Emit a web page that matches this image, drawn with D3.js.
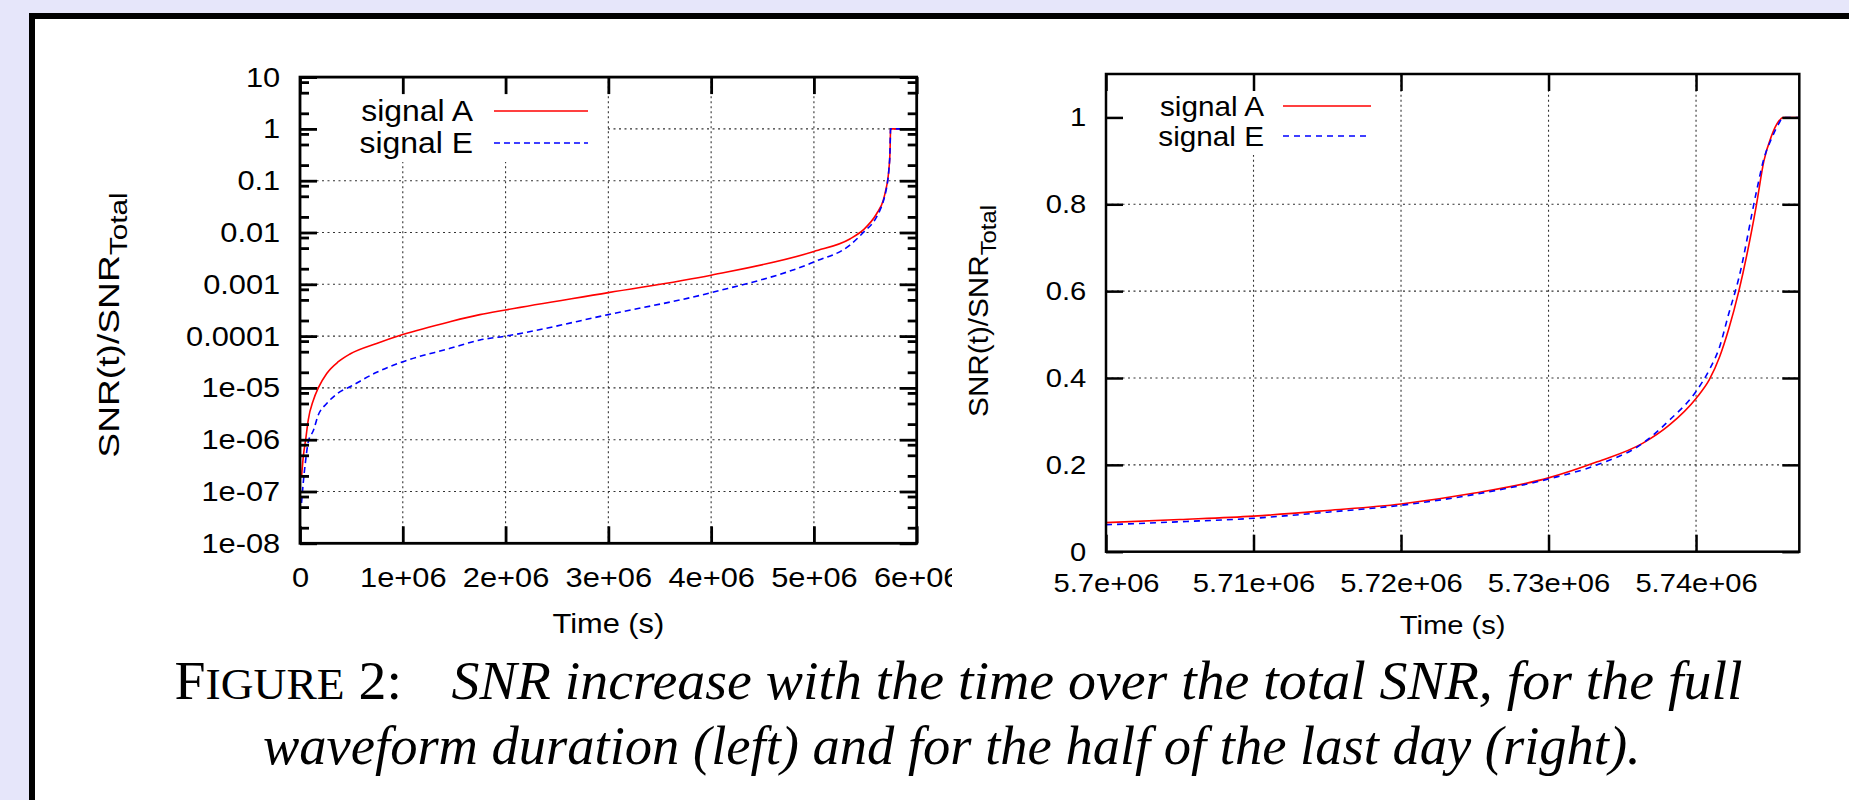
<!DOCTYPE html>
<html><head><meta charset="utf-8">
<script src="https://cdn.jsdelivr.net/npm/d3@7"></script>
<style>html,body{margin:0;padding:0;background:#e6e6fa;overflow:hidden}</style>
</head><body><svg id="c" width="1849" height="800"></svg>
<script>
// ---------- data ----------
const seriesNames = ["signal A", "signal E"];
// left panel: full waveform duration (log y)
const leftTime = [1.5e4, 3.2e4, 5.5e4, 8e4, 1.3e5, 1.78e5, 2.6e5, 3.73e5, 4.86e5, 7.46e5, 1.0e6, 1.46e6, 1.75e6, 2.0e6, 3.0e6, 4.0e6, 5.0e6, 5.35e6, 5.48e6, 5.61e6, 5.675e6, 5.7e6, 5.72e6, 5.73e6, 5.74e6, 5.743e6, 5.745e6, 5.7459e6, 6.0e6];
const leftSignalA = [1.9e-7, 4.7e-7, 1.0e-6, 2.4e-6, 5.8e-6, 1.0e-5, 1.9e-5, 3.2e-5, 4.5e-5, 7.2e-5, 1.07e-4, 1.9e-4, 2.6e-4, 3.2e-4, 6.9e-4, 1.5e-3, 4.3e-3, 7.5e-3, 1.12e-2, 2.3e-2, 4.2e-2, 0.067, 0.11, 0.17, 0.35, 0.6, 0.93, 1.0, 1.0];
const leftSignalE = [6.0e-8, 1.5e-7, 4.0e-7, 9.0e-7, 1.5e-6, 3.0e-6, 5.0e-6, 8.0e-6, 1.05e-5, 2.0e-5, 3.2e-5, 5.8e-5, 8.4e-5, 1.0e-4, 2.6e-4, 6.9e-4, 2.7e-3, 5.7e-3, 1.0e-2, 2.0e-2, 4.0e-2, 0.062, 0.107, 0.168, 0.37, 0.68, 0.95, 1.0, 1.0];
const leftXTicks = [0, 1e6, 2e6, 3e6, 4e6, 5e6, 6e6];
const leftXTickLabels = ["0", "1e+06", "2e+06", "3e+06", "4e+06", "5e+06", "6e+06"];
const leftYTicks = [1e-8, 1e-7, 1e-6, 1e-5, 1e-4, 1e-3, 1e-2, 1e-1, 1, 10];
const leftYTickLabels = ["1e-08", "1e-07", "1e-06", "1e-05", "0.0001", "0.001", "0.01", "0.1", "1", "10"];
const leftYMinorFactors = [2, 5, 8];
// right panel: half of the last day (linear y)
const rightTime = [5.7e6, 5.705e6, 5.71e6, 5.715e6, 5.72e6, 5.725e6, 5.73e6, 5.7333e6, 5.7364e6, 5.7382e6, 5.74e6, 5.7409e6, 5.7416e6, 5.7422e6, 5.7429e6, 5.7441e6, 5.7446e6, 5.7451e6, 5.7456e6, 5.7459e6, 5.747e6];
const rightSignalA = [0.067, 0.074, 0.082, 0.095, 0.110, 0.135, 0.170, 0.207, 0.250, 0.292, 0.353, 0.396, 0.449, 0.511, 0.600, 0.800, 0.900, 0.956, 0.991, 1.0, 1.0];
const rightSignalE = [0.062, 0.069, 0.077, 0.091, 0.107, 0.132, 0.1675, 0.200, 0.250, 0.303, 0.369, 0.419, 0.472, 0.546, 0.630, 0.830, 0.905, 0.950, 0.985, 1.0, 1.0];
const rightXTicks = [5.7e6, 5.71e6, 5.72e6, 5.73e6, 5.74e6];
const rightXTickLabels = ["5.7e+06", "5.71e+06", "5.72e+06", "5.73e+06", "5.74e+06"];
const rightYTicks = [0, 0.2, 0.4, 0.6, 0.8, 1];
const rightYTickLabels = ["0", "0.2", "0.4", "0.6", "0.8", "1"];
const xTitle = "Time (s)";
const captionLine1 = ["F", "IGURE", " 2:", "SNR increase with the time over the total SNR, for the full"];
const captionLine2 = "waveform duration (left) and for the half of the last day (right).";

// ---------- drawing ----------
const W = 1849, H = 800;
const SANS = "'Liberation Sans', Arial, Helvetica, sans-serif";
const SERIF = "'Liberation Serif', 'Times New Roman', serif";
const STRETCH = 1.1;
const svg = d3.select("#c");
svg.append("rect").attr("width", W).attr("height", H).attr("fill", "#e6e6fa");
svg.append("rect").attr("x", 32).attr("y", 16).attr("width", W).attr("height", H)
  .attr("fill", "#fff").attr("stroke", "#000").attr("stroke-width", 6);

const defs = svg.append("defs");
defs.append("clipPath").attr("id", "clipL").append("rect")
  .attr("x", 0).attr("y", 0).attr("width", 952).attr("height", H);

function panel(o) {
  const g = svg.append("g").attr("clip-path", o.clip ? `url(#${o.clip})` : null);
  const x = o.x, y = o.y;
  const [xl, xr] = x.range(), [yb, yt] = y.range();
  const fs = o.fontSize;
  // grid
  const grid = g.append("g").attr("stroke", "#333").attr("stroke-width", 1.1).attr("fill", "none");
  grid.selectAll("line.gy").data(o.yTicks.slice(1, -1)).join("line").attr("class", "gy")
    .attr("x1", xl).attr("x2", xr).attr("y1", d => y(d)).attr("y2", d => y(d))
    .attr("stroke-dasharray", "2,3.5");
  grid.selectAll("line.gx").data(o.xTicks.slice(1, o.xGridEnd)).join("line").attr("class", "gx")
    .attr("y1", yb).attr("y2", yt).attr("x1", d => x(d)).attr("x2", d => x(d))
    .attr("stroke-dasharray", "2,3");
  // opaque key box
  g.append("rect").attr("x", o.keyBox[0]).attr("y", o.keyBox[1])
    .attr("width", o.keyBox[2] - o.keyBox[0]).attr("height", o.keyBox[3] - o.keyBox[1]).attr("fill", "#fff");
  // curves
  const line = d3.line().x(d => x(d.t)).y(d => y(d.v)).curve(d3.curveMonotoneX);
  const colors = ["#ff0000", "#0000ff"];
  const dashes = [null, o.dash];
  o.series.forEach((s, i) => {
    const pts = o.time.map((t, k) => ({t, v: s[k]}));
    g.append("path").datum(pts).attr("d", line).attr("fill", "none")
      .attr("stroke", colors[i]).attr("stroke-width", 1.6).attr("stroke-dasharray", dashes[i]);
  });
  // axes (inward ticks, mirrored)
  const tickStyle = sel => {
    sel.select(".domain").remove();
    sel.selectAll(".tick line").attr("stroke", "#000").attr("stroke-width", o.axisW);
    sel.selectAll("text").attr("font-family", SANS).attr("font-size", fs).attr("fill", "#000");
  };
  const fmt = (ticks, labels) => d => labels[ticks.indexOf(d)];
  g.append("g").attr("transform", `translate(0,${yb})`)
    .call(d3.axisBottom(x).tickValues(o.xTicks).tickFormat(fmt(o.xTicks, o.xLabels)).tickSize(-17).tickPadding(o.xPad))
    .call(tickStyle)
    .selectAll("text").attr("transform", `scale(${STRETCH},1)`);
  g.append("g").attr("transform", `translate(0,${yt})`)
    .call(d3.axisTop(x).tickValues(o.xTicks).tickFormat("").tickSize(-17)).call(tickStyle);
  g.append("g").attr("transform", `translate(${xl},0)`)
    .call(d3.axisLeft(y).tickValues(o.yTicks).tickFormat(fmt(o.yTicks, o.yLabels)).tickSize(-17).tickPadding(o.yPad))
    .call(tickStyle)
    .selectAll("text").attr("transform", `scale(${STRETCH},1)`);
  g.append("g").attr("transform", `translate(${xr},0)`)
    .call(d3.axisRight(y).tickValues(o.yTicks).tickFormat("").tickSize(-17)).call(tickStyle);
  if (o.minor) {
    g.append("g").attr("transform", `translate(${xl},0)`)
      .call(d3.axisLeft(y).tickValues(o.minor).tickFormat("").tickSize(-9)).call(tickStyle);
    g.append("g").attr("transform", `translate(${xr},0)`)
      .call(d3.axisRight(y).tickValues(o.minor).tickFormat("").tickSize(-9)).call(tickStyle);
  }
  // frame
  g.append("rect").attr("x", xl).attr("y", yt).attr("width", xr - xl).attr("height", yb - yt)
    .attr("fill", "none").attr("stroke", "#000").attr("stroke-width", o.axisW);
  // titles
  g.append("text").attr("transform", `translate(${(xl + xr) / 2},${o.xTitleY}) scale(${STRETCH},1)`)
    .attr("text-anchor", "middle").attr("font-family", SANS).attr("font-size", fs).text(xTitle);
  const yfs = o.yTitleFont;
  const yl = g.append("text").attr("transform", `translate(${o.yTitleX},${o.yTitleY}) rotate(-90) scale(${o.yTitleStretch},1)`)
    .attr("text-anchor", "middle").attr("font-family", SANS).attr("font-size", yfs);
  yl.append("tspan").text("SNR(t)/SNR");
  yl.append("tspan").attr("font-size", yfs * 0.8).attr("dy", yfs * 0.28).text("Total");
  // key
  seriesNames.forEach((n, i) => {
    const ky = o.keyY[i];
    g.append("text").attr("transform", `translate(${o.keyTextRight},${ky + o.keyFont * 0.36}) scale(${STRETCH},1)`)
      .attr("text-anchor", "end").attr("font-family", SANS).attr("font-size", o.keyFont).text(n);
    g.append("line").attr("x1", o.keyLine[0]).attr("x2", o.keyLine[1]).attr("y1", ky).attr("y2", ky)
      .attr("stroke", colors[i]).attr("stroke-width", 1.6).attr("stroke-dasharray", dashes[i]);
  });
}

const minorLeft = [];
leftYTicks.slice(0, -1).forEach(d => leftYMinorFactors.forEach(f => minorLeft.push(d * f)));

panel({
  clip: "clipL",
  x: d3.scaleLinear().domain([0, 6e6]).range([300, 916.7]),
  y: d3.scaleLog().domain([1e-8, 10]).range([543.3, 77.1]),
  time: leftTime, series: [leftSignalA, leftSignalE],
  xTicks: leftXTicks, xLabels: leftXTickLabels, yTicks: leftYTicks, yLabels: leftYTickLabels,
  xGridEnd: -1, minor: minorLeft,
  fontSize: 28, axisW: 2.8, xPad: 24, yPad: 18, xTitleY: 633,
  yTitleX: 119, yTitleY: 325, yTitleFont: 30, yTitleStretch: 1.24,
  keyBox: [302, 79, 606, 162], keyY: [111, 143], keyFont: 29, keyTextRight: 473, keyLine: [494, 588], dash: "6,4"
});
panel({
  x: d3.scaleLinear().domain([5.7e6, 5.747e6]).range([1106, 1799.3]),
  y: d3.scaleLinear().domain([0, 1.1]).range([551.7, 74]),
  time: rightTime, series: [rightSignalA, rightSignalE],
  xTicks: rightXTicks, xLabels: rightXTickLabels, yTicks: rightYTicks, yLabels: rightYTickLabels,
  xGridEnd: undefined, minor: null,
  fontSize: 26.5, axisW: 2.5, xPad: 21, yPad: 18, xTitleY: 634,
  yTitleX: 988, yTitleY: 311, yTitleFont: 27, yTitleStretch: 1.1,
  keyBox: [1108, 76, 1388, 155], keyY: [106, 136], keyFont: 27, keyTextRight: 1264, keyLine: [1283, 1371], dash: "6,5"
});

// caption
function fitLine(build, x0, x1, baseline) {
  const t = svg.append("text").attr("font-family", SERIF).attr("font-size", 54).attr("fill", "#000");
  build(t);
  const bb = t.node().getBBox();
  const sx = (x1 - x0) / bb.width;
  t.attr("transform", `translate(${x0 - bb.x * sx},${baseline}) scale(${sx},1)`);
}
fitLine(t => {
  t.append("tspan").text(captionLine1[0]);
  t.append("tspan").attr("font-size", 44).text(captionLine1[1]);
  t.append("tspan").text(captionLine1[2]);
  t.append("tspan").attr("dx", 48).attr("font-style", "italic").text(captionLine1[3]);
}, 174.5, 1743, 699);
fitLine(t => {
  t.append("tspan").attr("font-style", "italic").text(captionLine2);
}, 263, 1641, 764);
</script></body></html>
